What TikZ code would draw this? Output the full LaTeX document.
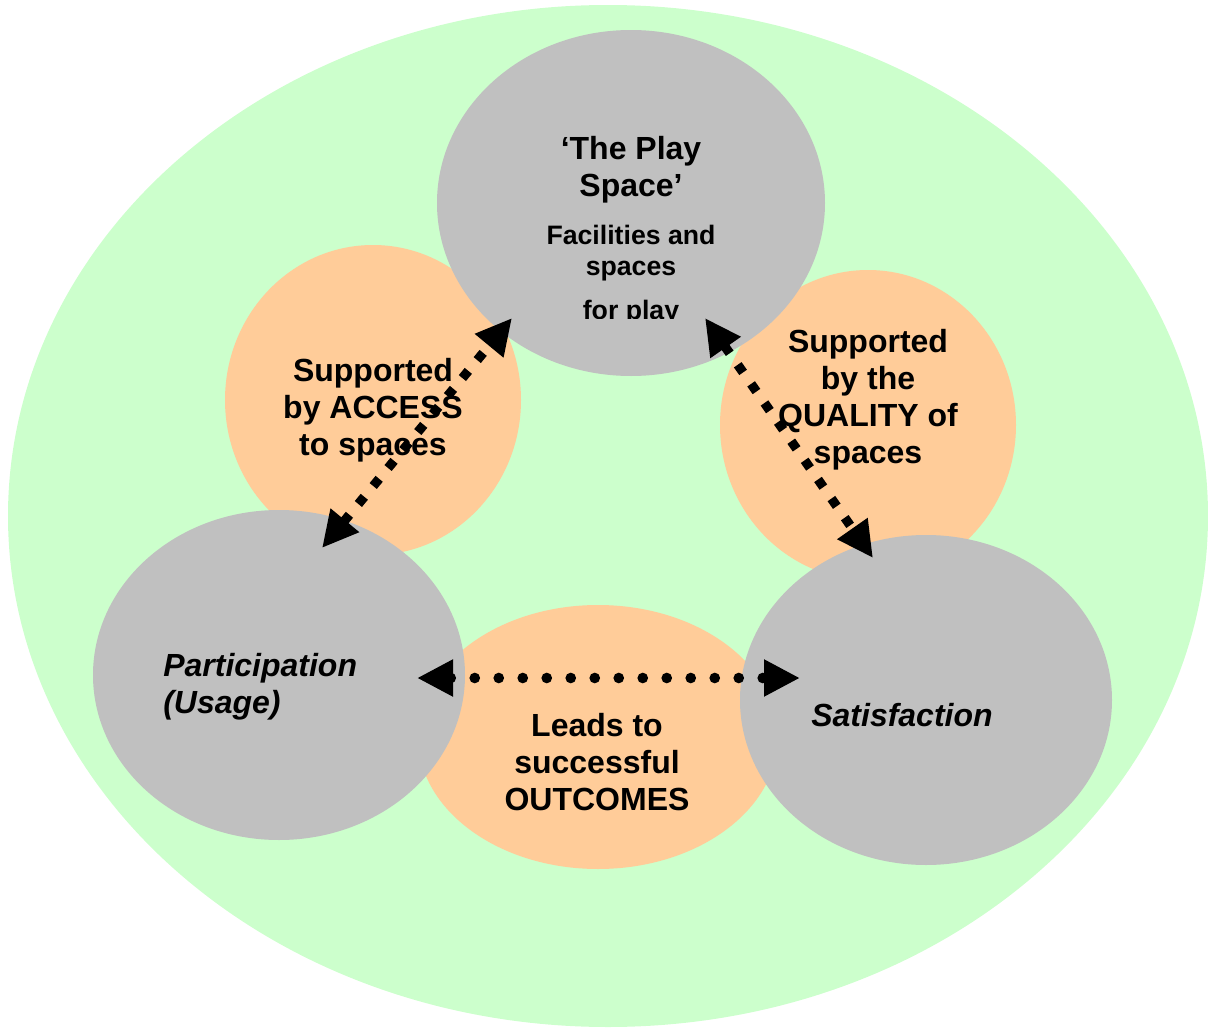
\documentclass[tikz,border=0pt]{standalone}
\usepackage{fontspec}
\setmainfont{Liberation Sans}
\usetikzlibrary{arrows.meta}
\definecolor{bggreen}{HTML}{CCFFCC}
\definecolor{peach}{HTML}{FFCC99}
\definecolor{blobgray}{HTML}{C0C0C0}
\tikzset{
  bigtxt/.style={font=\bfseries\fontsize{24}{27.75}\selectfont, align=center, inner sep=0pt},
  smalltxt/.style={font=\bfseries\fontsize{20}{23}\selectfont, align=center, inner sep=0pt},
  bigtip/.tip={Triangle[length=27pt,width=26pt]},
  squarelink/.style={line width=7pt, dash pattern=on 7pt off 10.5pt, bigtip-bigtip},
  dotlink/.style={line width=8pt, line cap=round, dash pattern=on 0pt off 18pt, bigtip-bigtip}
}
\begin{document}
\begin{tikzpicture}[x=0.75pt,y=-0.75pt]
  \useasboundingbox (0,0) rectangle (1208,1028);
  \fill [bggreen] (608,516) ellipse [x radius=600, y radius=511];

  % outcome circles
  \foreach \cx/\cy/\rx/\ry in {373/400/148/155, 868/425/148/155, 598/737/180/132}
    \fill [peach] (\cx,\cy) ellipse [x radius=\rx, y radius=\ry];

  % the three main blobs
  \foreach \cx/\cy/\rx/\ry in {631/203/194/173, 279/675/186/165, 926/700/186/165}
    \fill [blobgray] (\cx,\cy) ellipse [x radius=\rx, y radius=\ry];

  \node [bigtxt] (play) at (631,170) {‘The Play\\Space’};
  \node [smalltxt] (facil) at (631,253) {Facilities and\\spaces};
  \begin{scope}
    \clip (500,280) rectangle (760,318);
    \node [smalltxt, anchor=base] (forplay) at (631,319) {for play};
  \end{scope}

  \node [bigtxt] (access) at (373,410) {Supported\\by ACCESS\\to spaces};
  \node [bigtxt] (quality) at (868,400) {Supported\\by the\\QUALITY of\\spaces};
  \node [bigtxt] (outcome) at (597,762) {Leads to\\successful\\OUTCOMES};
  \node [bigtxt, align=left, anchor=west, font=\bfseries\itshape\fontsize{24}{27.75}\selectfont] (usage) at (163,687) {Participation\\(Usage)};
  \node [bigtxt, font=\bfseries\itshape\fontsize{24}{27.75}\selectfont] (satis) at (902,715) {Satisfaction};

  \coordinate (accTop) at (512,318);
  \coordinate (accLow) at (322,548);
  \coordinate (qualTop) at (705,318);
  \coordinate (qualLow) at (873,558);
  \coordinate (outLeft) at (417,678);
  \coordinate (outRight) at (800,678);

  \draw [squarelink] (accLow) -- (accTop);
  \draw [squarelink] (qualTop) -- (qualLow);
  \draw [dotlink] (outLeft) -- (outRight);
\end{tikzpicture}
\end{document}
